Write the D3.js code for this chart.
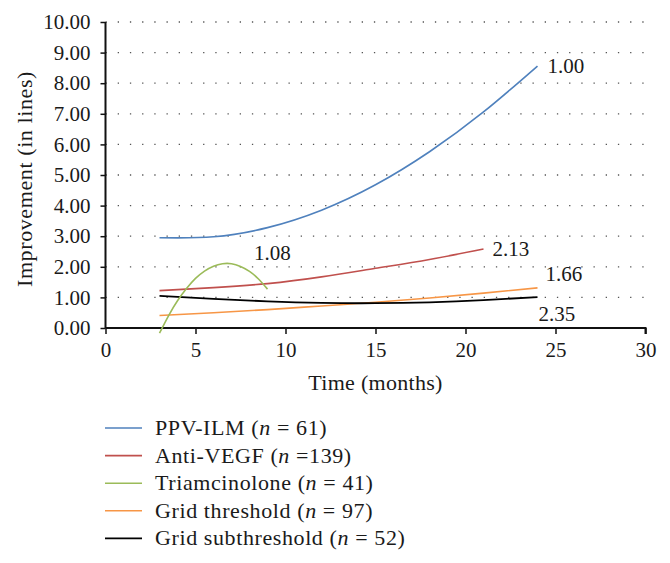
<!DOCTYPE html>
<html>
<head>
<meta charset="utf-8">
<script src="https://cdn.jsdelivr.net/npm/d3@7"></script>
<style>
  html, body { margin: 0; padding: 0; background: #fff; }
  svg { display: block; }
  text { font-family: "Liberation Serif", "DejaVu Serif", serif; fill: #1a1a1a; }
</style>
</head>
<body>
<svg id="chart" width="670" height="563"></svg>
<script>
// ---- data ----
const xTicks = [0, 5, 10, 15, 20, 25, 30];
const yTicks = [0, 1, 2, 3, 4, 5, 6, 7, 8, 9, 10];

const ppvMonths = [3, 6, 9, 12, 15, 18, 21, 24];
const ppvValues = [2.95, 2.98, 3.28, 3.85, 4.68, 5.76, 7.06, 8.56];

const vegfMonths = [3, 6, 9, 12, 15, 18, 21];
const vegfValues = [1.22, 1.32, 1.45, 1.67, 1.95, 2.24, 2.58];

const triMonths = [3, 3.5, 4, 4.5, 5, 5.5, 6, 6.5, 7, 7.5, 8, 8.5, 9];
const triValues = [-0.17, 0.40, 0.89, 1.29, 1.62, 1.86, 2.02, 2.10, 2.10, 2.01, 1.85, 1.60, 1.27];

const gridTMonths = [3, 6, 9, 12, 15, 18, 21, 24];
const gridTValues = [0.41, 0.50, 0.60, 0.72, 0.84, 0.98, 1.14, 1.31];

const gridSMonths = [3, 6, 9, 12, 15, 18, 21, 24];
const gridSValues = [1.05, 0.95, 0.87, 0.82, 0.81, 0.84, 0.91, 1.01];

const seriesNames = ["PPV-ILM", "Anti-VEGF", "Triamcinolone", "Grid threshold", "Grid subthreshold"];
const seriesN = ["= 61", "=139", "= 41", "= 97", "= 52"];
const seriesColors = ["#4f81bd", "#c0504d", "#9bbb59", "#f79646", "#000000"];
const endLabels = ["1.00", "2.13", "1.08", "1.66", "2.35"];

// ---- layout ----
const svg = d3.select("#chart");
const x = d3.scaleLinear().domain([0, 30]).range([105.5, 645.5]);
const y = d3.scaleLinear().domain([0, 10]).range([328, 22]);
const FS_NUM = 21;   // numeric labels
const FS_TXT = 22;   // word labels
const LS = "0.6px";

// gridlines
svg.append("g").selectAll("line")
  .data(yTicks.filter(d => d > 0))
  .join("line")
  .attr("x1", x(0)).attr("x2", x(30))
  .attr("y1", d => y(d)).attr("y2", d => y(d))
  .attr("stroke", "#555").attr("stroke-width", 1.3)
  .attr("stroke-dasharray", "1.3,10.9");

// axes
const yAxis = d3.axisLeft(y).tickValues(yTicks).tickFormat(d3.format(".2f")).tickSize(5).tickPadding(10);
const xAxis = d3.axisBottom(x).tickValues(xTicks).tickFormat(d3.format("d")).tickSize(6).tickPadding(8);

const gy = svg.append("g").attr("transform", `translate(${x(0)},0)`).call(yAxis);
const gx = svg.append("g").attr("transform", `translate(0,${y(0)})`).call(xAxis);
[gx, gy].forEach(g => {
  g.select(".domain").attr("stroke", "#111").attr("stroke-width", 2);
  g.selectAll(".tick line").attr("stroke", "#111").attr("stroke-width", 1.5);
  g.selectAll(".tick text").attr("font-family", "Liberation Serif, serif")
    .attr("font-size", FS_NUM).attr("fill", "#1a1a1a");
});
gy.select(".domain").attr("d", `M-0,${y(10)}V${y(0)}`);
gx.select(".domain").attr("d", `M${x(0)},0H${x(30)}V6`);

// axis titles
svg.append("text")
  .attr("transform", `translate(32,${(y(0) + y(10)) / 2 + 4}) rotate(-90)`)
  .attr("text-anchor", "middle").attr("font-size", FS_TXT)
  .style("letter-spacing", LS)
  .text("Improvement (in lines)");
svg.append("text")
  .attr("x", x(15)).attr("y", 390)
  .attr("text-anchor", "middle").attr("font-size", FS_TXT)
  .style("letter-spacing", "0.3px")
  .text("Time (months)");

// series
const seriesData = [
  [ppvMonths, ppvValues],
  [vegfMonths, vegfValues],
  [triMonths, triValues],
  [gridTMonths, gridTValues],
  [gridSMonths, gridSValues]
];
const line = d3.line().x(d => x(d[0])).y(d => y(d[1])).curve(d3.curveNatural);
const drawOrder = [3, 4, 1, 2, 0];
drawOrder.forEach(i => {
  const [ms, vs] = seriesData[i];
  const pts = ms.map((m, k) => [m, vs[k]]);
  svg.append("path").datum(pts)
    .attr("d", line)
    .attr("fill", "none")
    .attr("stroke", seriesColors[i])
    .attr("stroke-width", i === 4 ? 1.8 : 1.6);
});

// end labels (positioned relative to series data)
const labelPos = [
  { x: x(24) + 10, y: y(8.56) + 7 },
  { x: x(21) + 9, y: y(2.58) + 7 },
  { x: 254, y: y(2.11) - 3 },
  { x: x(24) + 8, y: y(1.31) - 7 },
  { x: x(24) + 1, y: y(1.01) + 24 }
];
labelPos.forEach((p, i) => {
  svg.append("text").attr("x", p.x).attr("y", p.y)
    .attr("font-size", FS_NUM).text(endLabels[i]);
});

// legend
const legY0 = 428, legDy = 27.6;
seriesNames.forEach((name, i) => {
  const ly = legY0 + i * legDy;
  svg.append("line").attr("x1", 105).attr("x2", 142)
    .attr("y1", ly).attr("y2", ly)
    .attr("stroke", seriesColors[i]).attr("stroke-width", 1.6);
  const t = svg.append("text").attr("x", 155).attr("y", ly + 7)
    .attr("font-size", FS_TXT).style("letter-spacing", LS);
  t.append("tspan").text(name + " (");
  t.append("tspan").attr("font-style", "italic").text("n");
  t.append("tspan").text(" " + seriesN[i] + ")");
});
</script>
</body>
</html>
